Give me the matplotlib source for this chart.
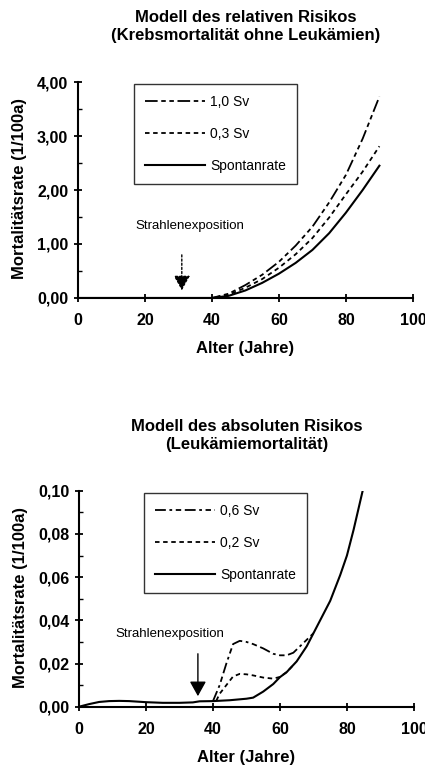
"""
Sterblichkeitsmodelle: relatives und absolutes Risiko nach Strahlenexposition
"""

import matplotlib
matplotlib.use('Agg')
import matplotlib.pyplot as plt
from matplotlib.ticker import MultipleLocator

plt.rcParams['font.family'] = ['Liberation Sans', 'DejaVu Sans']

# --- Daten oben: relatives Risiko (Krebsmortalität ohne Leukämien) ---
alter_oben = [0, 40, 45, 50, 55, 60, 65, 70, 75, 80, 85, 90]
spontan_oben = [0, 0, 0.04, 0.14, 0.28, 0.45, 0.65, 0.89, 1.20, 1.58, 2.00, 2.45]
sv03_oben = [0, 0, 0.06, 0.19, 0.35, 0.56, 0.81, 1.11, 1.49, 1.92, 2.34, 2.81]
sv10_oben = [0, 0, 0.08, 0.24, 0.43, 0.67, 0.97, 1.32, 1.77, 2.28, 2.95, 3.73]

# --- Daten unten: absolutes Risiko (Leukämiemortalität) ---
alter_unten = [0, 3, 6, 9, 12, 15, 20, 25, 30, 34, 36, 40, 45, 50, 52, 55, 58,
               60, 62, 65, 68, 70, 72, 75, 78, 80, 82, 85]
spontan_unten = [0, 0.0012, 0.0022, 0.0026, 0.0027, 0.0026, 0.0021, 0.0018,
                 0.0018, 0.0020, 0.0025, 0.0026, 0.0030, 0.0037, 0.0042, 0.0070,
                 0.0105, 0.0137, 0.0160, 0.0210, 0.0280, 0.0340, 0.0400, 0.0490,
                 0.0610, 0.0700, 0.0820, 0.1020]
alter_06 = [40, 42, 44, 46, 48, 50, 52, 55, 58, 60, 62, 64, 66, 68, 70]
sv06_unten = [0.0026, 0.0100, 0.0200, 0.0290, 0.0305, 0.0300, 0.0290, 0.0270,
              0.0245, 0.0238, 0.0238, 0.0250, 0.0280, 0.0310, 0.0340]
alter_02 = [41, 42, 44, 46, 48, 50, 52, 55, 58, 60, 62, 64]
sv02_unten = [0.0028, 0.0060, 0.0100, 0.0140, 0.0152, 0.0150, 0.0145, 0.0135,
              0.0130, 0.0138, 0.0160, 0.0193]

x_ticks = [0, 20, 40, 60, 80, 100]
y_ticks_oben = [0, 1, 2, 3, 4]
y_labels_oben = ['0,00', '1,00', '2,00', '3,00', '4,00']
y_ticks_unten = [0, 0.02, 0.04, 0.06, 0.08, 0.10]
y_labels_unten = ['0,00', '0,02', '0,04', '0,06', '0,08', '0,10']

STIL_HOCH = (0, (7, 2, 2.5, 2, 2.5, 2))
STIL_NIEDRIG = (0, (2.5, 2))
STIL_06 = (0, (6, 2, 1.5, 2, 3, 2))

fig = plt.figure(figsize=(4.25, 7.68), dpi=100)
ax1 = fig.add_axes([0.1835, 0.612, 0.788, 0.2812])
ax2 = fig.add_axes([0.1859, 0.0798, 0.788, 0.2812])


def achsen_stil(ax, ticks, labels, minor):
    ax.set_xlim(0, 100)
    ax.set_ylim(ticks[0], ticks[-1])
    for s in ['top', 'right']:
        ax.spines[s].set_visible(False)
    for s in ['left', 'bottom']:
        ax.spines[s].set_linewidth(1.5)
    ax.set_xticks(x_ticks)
    ax.set_xticklabels([str(t) for t in x_ticks])
    ax.set_yticks(ticks)
    ax.set_yticklabels(labels)
    ax.yaxis.set_minor_locator(MultipleLocator(minor))
    ax.tick_params(axis='both', which='major', direction='inout', length=6,
                   width=1.3, labelsize=11.5)
    ax.tick_params(axis='x', which='major', pad=8)
    ax.tick_params(axis='y', which='major', pad=4)
    ax.tick_params(axis='y', which='minor', direction='in', length=3, width=1)
    for lab in ax.get_xticklabels() + ax.get_yticklabels():
        lab.set_fontweight('bold')
    ax.set_xlabel('Alter (Jahre)', fontsize=12, fontweight='bold')
    ax.set_ylabel('Mortalitätsrate (1/100a)', fontsize=12, fontweight='bold')
    ax.xaxis.set_label_coords(0.5, -0.2)
    ax.yaxis.set_label_coords(-0.152, 0.505)


def legende(ax, anker):
    leg = ax.legend(loc='upper left', bbox_to_anchor=anker, fontsize=10,
                    frameon=True, fancybox=False, edgecolor='black',
                    handlelength=4.3, handletextpad=0.4, labelspacing=1.3,
                    borderpad=0.8, borderaxespad=0)
    leg.get_frame().set_linewidth(1.0)
    return leg


# oben
ax1.plot(alter_oben, sv10_oben, color='black', lw=1.3, ls=STIL_HOCH, label='1,0 Sv')
ax1.plot(alter_oben, sv03_oben, color='black', lw=1.3, ls=STIL_NIEDRIG, label='0,3 Sv')
ax1.plot(alter_oben, spontan_oben, color='black', lw=1.5, label='Spontanrate')
achsen_stil(ax1, y_ticks_oben, y_labels_oben, 0.5)
ax1.set_title('Modell des relativen Risikos\n(Krebsmortalität ohne Leukämien)',
              fontsize=12, fontweight='bold', pad=30, linespacing=1.25)
ax1.text(33.4, 1.33, 'Strahlenexposition', fontsize=9.5, ha='center', va='center')
ax1.annotate('', xy=(31, 0.09), xytext=(31, 0.85),
             arrowprops=dict(arrowstyle='-|>,head_length=0.9,head_width=0.5',
                             color='black', lw=1, ls=(0, (1.5, 1.5))))
legende(ax1, (0.167, 0.991))

# unten
ax2.plot(alter_06, sv06_unten, color='black', lw=1.3, ls=STIL_06, label='0,6 Sv')
ax2.plot(alter_02, sv02_unten, color='black', lw=1.3, ls=STIL_NIEDRIG, label='0,2 Sv')
ax2.plot(alter_unten, spontan_unten, color='black', lw=1.5, label='Spontanrate')
achsen_stil(ax2, y_ticks_unten, y_labels_unten, 0.01)
ax2.set_ylim(0, 0.1)
ax2.set_title('Modell des absoluten Risikos\n(Leukämiemortalität)',
              fontsize=12, fontweight='bold', pad=30, linespacing=1.25)
ax2.text(27.2, 0.0337, 'Strahlenexposition', fontsize=9.5, ha='center', va='center')
ax2.annotate('', xy=(35.5, 0.0036), xytext=(35.5, 0.0258),
             arrowprops=dict(arrowstyle='-|>,head_length=0.9,head_width=0.5',
                             color='black', lw=1))
legende(ax2, (0.194, 0.989))

fig.savefig('out.png', dpi=100)
